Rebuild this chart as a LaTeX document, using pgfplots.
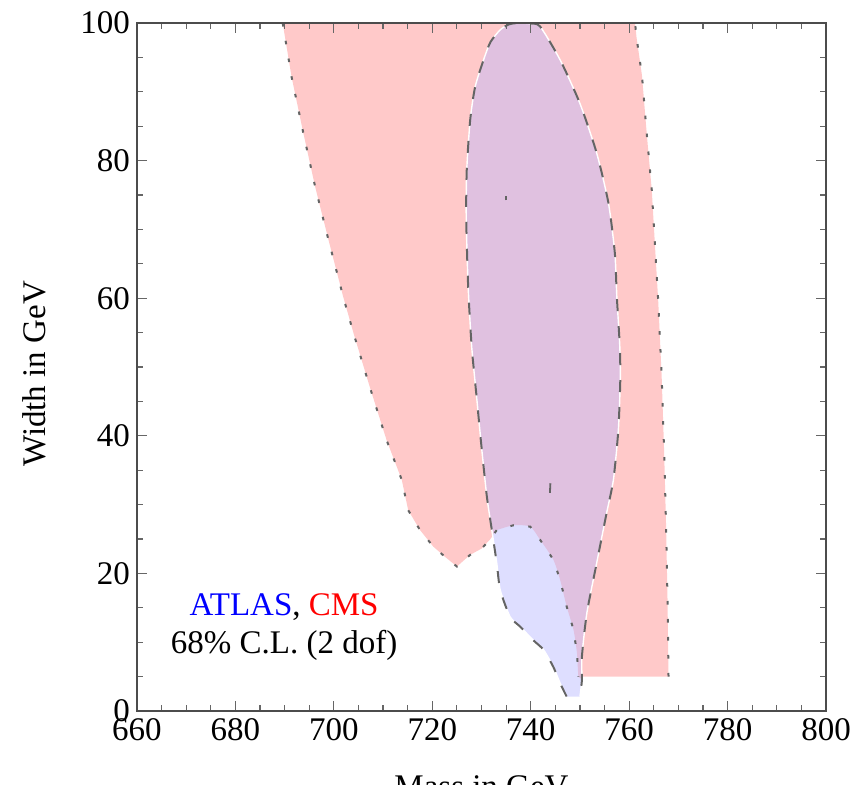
\documentclass[border=0pt]{standalone}
\usepackage{fontspec}
\setmainfont{Liberation Serif}
\usepackage{pgfplots}
\pgfplotsset{compat=1.18}
\definecolor{cmsfill}{RGB}{255,201,201}
\definecolor{atlasfill}{RGB}{222,222,255}
\definecolor{overlapfill}{RGB}{224,193,224}
\definecolor{bordergray}{RGB}{100,100,100}
\begin{document}
\begin{tikzpicture}[font=\fontsize{16.5}{19.8}\selectfont]
\begin{axis}[
  scale only axis, width=344.5pt, height=344pt,
  xmin=660, xmax=800, ymin=0, ymax=100,
  xtick={660,680,...,800}, ytick={0,20,...,100},
  xticklabels={660,680,700,720,740,760,780,800},
  yticklabels={0,20,40,60,80,100},
  minor x tick num=3, minor y tick num=3,
  tick align=inside, tick pos=both,
  major tick length=5pt, minor tick length=3pt,
  every tick/.style={black!60, line width=0.6pt},
  axis line style={black!70, line width=0.6pt},
  axis on top, no markers,
  tick label style={font=\fontsize{16.5}{19.8}\selectfont},
  xlabel={Mass in GeV},
  xlabel style={at={(axis description cs:0.5,0)}, anchor=north, yshift=-32pt, inner sep=0pt, font=\fontsize{16.5}{19.8}\selectfont},
]
% CMS region
\addplot[fill=cmsfill, draw=none] coordinates {
(689.6,100) (691.4,92.2) (693.8,84.0) (696.2,76.2) (698.9,68.5) (701.9,60.2)
(704.0,54.9) (707.3,47.1) (710.7,39.4) (713.8,33.6) (715.1,29.2) (717.5,26.3)
(720.2,23.9) (722.6,22.4) (725.0,21.0) (727.7,22.7) (730.0,23.6) (731.7,24.9)
(733.1,26.3) (736.5,27.0) (739.9,26.8) (741.9,24.9) (744.6,22.0) (746.0,19.0)
(747.3,15.2) (748.7,11.8) (749.4,8.4) (749.7,5.0) (768.0,5.0) (767.8,16.1)
(767.5,27.0) (767.1,37.9) (766.6,48.8) (765.9,59.7) (765.3,67.0) (764.6,75.7)
(763.6,83.7) (762.6,92.4) (761.5,97.9) (761.2,100)
} -- cycle;
% ATLAS region
\addplot[fill=atlasfill, draw=none, smooth, tension=0.4] coordinates {
(747.3,2.1) (746.0,4.0) (744.6,6.4) (742.6,8.9) (740.5,10.3) (737.8,12.3)
(735.8,13.7) (733.8,17.6) (733.1,21.5) (732.1,26.3) (731.1,31.1) (730.0,38.4)
(729.0,45.7) (728.0,53.0) (727.3,61.5) (726.9,71.4) (727.0,78.6) (727.7,85.9)
(728.7,90.7) (730.4,94.6) (731.8,97.2) (733.8,99.0) (735.6,99.8) (737.5,100.0)
(739.8,99.9) (741.9,99.5) (746.0,94.6) (750.0,88.3) (753.4,81.1) (755.8,73.8)
(757.1,66.5) (757.5,60.2) (758.1,53.0) (758.2,48.1) (757.8,40.8) (756.8,33.6)
(755.4,28.7) (753.4,21.5) (751.4,14.2) (750.4,7.9) (750.4,4.5) (750.0,2.1)
} -- cycle;
% overlap
\addplot[fill=overlapfill, draw=none, smooth, tension=0.4] coordinates {
(732.3,25.6) (731.1,31.1) (730.0,38.4)
(729.0,45.7) (728.0,53.0) (727.3,61.5) (726.9,71.4) (727.0,78.6) (727.7,85.9)
(728.7,90.7) (730.4,94.6) (731.8,97.2) (733.8,99.0) (735.6,99.8) (737.5,100.0)
(739.8,99.9) (741.9,99.5) (746.0,94.6) (750.0,88.3) (753.4,81.1) (755.8,73.8)
(757.1,66.5) (757.5,60.2) (758.1,53.0) (758.2,48.1) (757.8,40.8) (756.8,33.6)
(755.4,28.7) (753.4,21.5) (751.4,14.2) (750.4,7.9) (750.4,5.0)
(749.7,5.0) (749.4,8.4) (748.7,11.8) (747.3,15.2) (746.0,19.0) (744.6,22.0)
(741.9,24.9) (739.9,26.8) (736.5,27.0) (733.1,26.3)
} -- cycle;
% CMS borders (dotted)
\addplot[bordergray, line width=1pt, dash pattern=on 1.8pt off 7.2pt] coordinates {
(689.6,100) (691.4,92.2) (693.8,84.0) (696.2,76.2) (698.9,68.5) (701.9,60.2)
(704.0,54.9) (707.3,47.1) (710.7,39.4) (713.8,33.6) (715.1,29.2) (717.5,26.3)
(720.2,23.9) (722.6,22.4) (725.0,21.0) (727.7,22.7) (730.0,23.6) (731.7,24.9)
(733.1,26.3) (736.5,27.0) (739.9,26.8) (741.9,24.9) (744.6,22.0) (746.0,19.0)
(747.3,15.2) (748.7,11.8) (749.4,8.4) (749.7,5.0)
};
\addplot[bordergray, line width=1pt, dash pattern=on 1.8pt off 7.2pt] coordinates {
(768.0,5.0) (767.8,16.1)
(767.5,27.0) (767.1,37.9) (766.6,48.8) (765.9,59.7) (765.3,67.0) (764.6,75.7)
(763.6,83.7) (762.6,92.4) (761.5,97.9) (761.2,100)
};
% ATLAS border (white underlay + dashed)
\addplot[white, line width=0.7pt, smooth, tension=0.4] coordinates {
(747.3,2.1) (746.0,4.0) (744.6,6.4) (742.6,8.9) (740.5,10.3) (737.8,12.3)
(735.8,13.7) (733.8,17.6) (733.1,21.5) (732.1,26.3) (731.1,31.1) (730.0,38.4)
(729.0,45.7) (728.0,53.0) (727.3,61.5) (726.9,71.4) (727.0,78.6) (727.7,85.9)
(728.7,90.7) (730.4,94.6) (731.8,97.2) (733.8,99.0) (735.6,99.8) (737.5,100.0)
(739.8,99.9) (741.9,99.5) (746.0,94.6) (750.0,88.3) (753.4,81.1) (755.8,73.8)
(757.1,66.5) (757.5,60.2) (758.1,53.0) (758.2,48.1) (757.8,40.8) (756.8,33.6)
(755.4,28.7) (753.4,21.5) (751.4,14.2) (750.4,7.9) (750.4,4.5) (750.0,2.1)
};
\addplot[bordergray, line width=1pt, dash pattern=on 6pt off 7.5pt, smooth, tension=0.4] coordinates {
(747.3,2.1) (746.0,4.0) (744.6,6.4) (742.6,8.9) (740.5,10.3) (737.8,12.3)
(735.8,13.7) (733.8,17.6) (733.1,21.5) (732.1,26.3) (731.1,31.1) (730.0,38.4)
(729.0,45.7) (728.0,53.0) (727.3,61.5) (726.9,71.4) (727.0,78.6) (727.7,85.9)
(728.7,90.7) (730.4,94.6) (731.8,97.2) (733.8,99.0) (735.6,99.8) (737.5,100.0)
(739.8,99.9) (741.9,99.5) (746.0,94.6) (750.0,88.3) (753.4,81.1) (755.8,73.8)
(757.1,66.5) (757.5,60.2) (758.1,53.0) (758.2,48.1) (757.8,40.8) (756.8,33.6)
(755.4,28.7) (753.4,21.5) (751.4,14.2) (750.4,7.9) (750.4,4.5) (750.0,2.1)
};
% small contour artefacts
\addplot[bordergray, line width=0.9pt] coordinates {(735.0,74.2) (735.0,74.9)};
\addplot[bordergray, line width=0.9pt] coordinates {(743.9,31.7) (744.0,33.1)};
% text
\node[anchor=base, inner sep=0pt] at (axis cs:689.9,13.95) {\textcolor{blue}{ATLAS}, \textcolor{red}{CMS}};
\node[anchor=base, inner sep=0pt] at (axis cs:689.9,8.3) {68\% C.L. (2 dof)};
\coordinate (bl) at (rel axis cs:0,0);
\coordinate (tr) at (rel axis cs:1,1);
\coordinate (lm) at (rel axis cs:0,0.49);
\end{axis}
\node[rotate=90, anchor=base, inner sep=0pt] at ([xshift=-46pt]lm) {Width in GeV};
\pgfresetboundingbox
\path[use as bounding box] ([xshift=-68.5pt,yshift=-37pt]bl) rectangle ([xshift=20.5pt,yshift=11.5pt]tr);
\end{tikzpicture}
\end{document}
